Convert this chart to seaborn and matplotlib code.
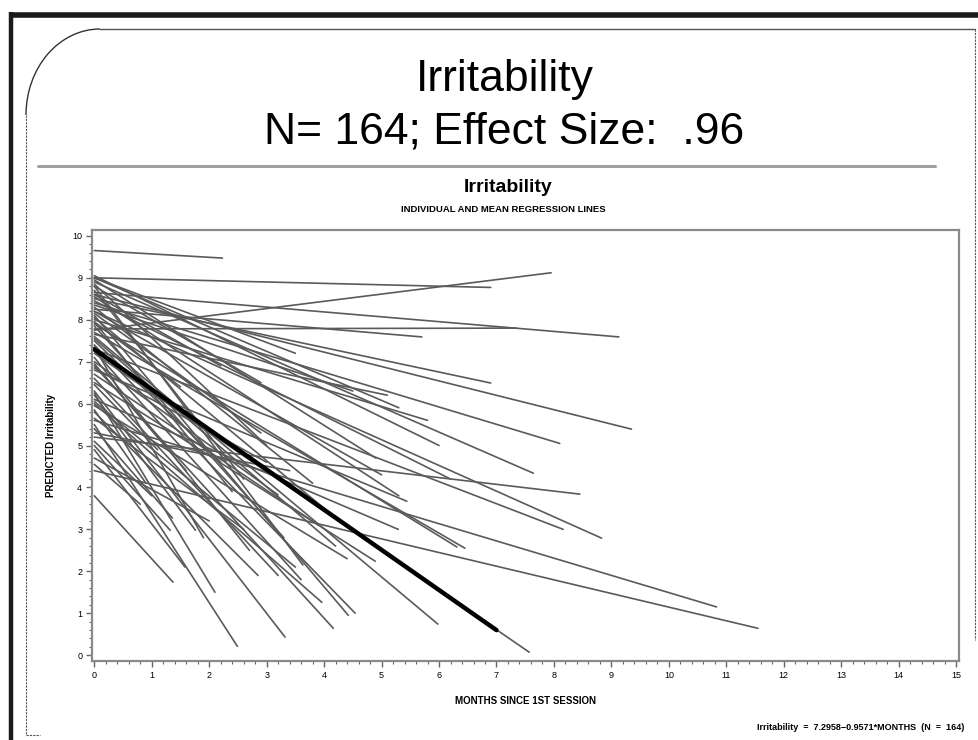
import numpy as np
import pandas as pd
import matplotlib
matplotlib.use("Agg")
import matplotlib.pyplot as plt
import seaborn as sns
from matplotlib.lines import Line2D
from matplotlib.patches import Arc
from matplotlib.ticker import MultipleLocator

# individual regression lines: value at month 0, last month, value at last month
start_y = [9.65, 9.00, 7.75, 8.65, 7.78, 8.25, 8.50, 8.60, 8.40, 8.00,
           7.65, 8.90, 5.20, 7.30, 8.20, 5.60, 4.40, 7.20, 6.80, 7.90,
           6.10, 6.50, 7.60, 6.90, 7.40, 8.10, 6.00, 3.80, 5.50, 6.30,
           4.90, 5.40, 5.00, 6.20, 7.00, 6.60, 5.80, 8.80, 9.05, 8.95,
           8.85, 8.70, 8.55, 8.30, 8.15, 8.05, 7.95, 7.85, 7.70, 7.50,
           7.35, 7.10, 6.95, 6.70, 6.45, 6.25, 6.05, 5.85, 5.65, 5.30,
           5.10, 4.70, 4.55, 8.35, 9.00, 8.80, 8.60, 7.95, 8.20, 7.55,
           6.85, 5.95, 7.25, 8.45, 9.00]
end_x = [2.23, 6.90, 7.95, 9.13, 7.35, 5.70, 6.90, 9.35, 8.10, 5.80,
         5.10, 7.64, 8.45, 8.16, 8.83, 10.83, 11.55, 7.57, 5.44, 6.31,
         5.29, 4.89, 5.98, 4.16, 4.54, 4.42, 3.96, 1.37, 2.49, 3.32,
         1.58, 1.36, 1.32, 1.76, 3.20, 3.20, 2.85, 3.63, 6.00, 4.90,
         3.00, 2.60, 5.30, 3.80, 2.90, 4.00, 2.40, 3.30, 6.45, 2.20,
         1.90, 2.70, 1.60, 3.90, 1.10, 2.10, 3.50, 0.90, 2.60, 3.40,
         1.00, 2.00, 0.80, 4.50, 3.50, 2.90, 2.20, 1.50, 5.00, 4.20,
         3.00, 4.40, 3.60, 6.20, 5.30]
end_y = [9.47, 8.77, 9.12, 7.59, 7.80, 7.59, 6.49, 5.39, 5.05, 5.60,
         6.20, 4.34, 3.84, 3.00, 2.79, 1.15, 0.64, 0.07, 3.67, 2.58,
         3.00, 2.24, 0.74, 0.64, 1.00, 0.95, 1.26, 1.74, 0.21, 0.43,
         2.10, 3.27, 2.98, 2.98, 3.82, 1.90, 1.90, 2.15, 5.00, 4.70,
         5.00, 4.20, 3.80, 4.10, 5.30, 3.50, 3.90, 2.80, 2.55, 4.60,
         2.80, 2.50, 4.40, 3.10, 4.90, 1.50, 2.10, 4.10, 3.00, 4.40,
         3.80, 3.20, 3.60, 6.30, 7.20, 6.50, 6.90, 6.40, 4.30, 2.60,
         4.60, 2.30, 1.80, 4.20, 5.90]

# mean regression line (from the footnote)
mean_intercept = 7.2958
mean_slope = -0.9571
mean_end = 7.0

rows = []
for i, (y0, x1, y1) in enumerate(zip(start_y, end_x, end_y)):
    rows.append({"id": i, "months": 0.0, "pred": y0})
    rows.append({"id": i, "months": x1, "pred": y1})
df = pd.DataFrame(rows)
mean_df = pd.DataFrame({"months": [0.0, mean_end],
                        "pred": [mean_intercept, mean_intercept + mean_slope * mean_end]})

sns.set_style("white")
plt.rcParams["font.family"] = ["Liberation Sans", "DejaVu Sans"]
plt.rcParams["text.color"] = "black"
plt.rcParams["axes.labelcolor"] = "black"
plt.rcParams["xtick.color"] = "black"
plt.rcParams["ytick.color"] = "black"

W, H = 979, 740
fig = plt.figure(figsize=(W / 100, H / 100), dpi=100)
fig.patch.set_facecolor("white")


def fx(px):
    return px / W


def fy(py):
    return 1 - py / H


# slide frame
fig.add_artist(Line2D([fx(11), fx(11)], [fy(12), fy(740)], color="#1a1a1a", lw=3.2,
                      solid_capstyle="butt", transform=fig.transFigure))
fig.add_artist(Line2D([fx(9), fx(979)], [fy(14.5), fy(14.5)], color="#1a1a1a", lw=4,
                      solid_capstyle="butt", transform=fig.transFigure))
fig.add_artist(Line2D([fx(100), fx(975)], [fy(29), fy(29)], color="#555555", lw=1, transform=fig.transFigure))
fig.add_artist(Arc((fx(100), fy(115)), 2 * 74 / W, 2 * 86 / H, theta1=90, theta2=180,
                   color="#333333", lw=1, transform=fig.transFigure))
fig.add_artist(Line2D([fx(26), fx(26), fx(40)], [fy(115), fy(735), fy(735)], color="#555555", lw=0.8,
                      ls=(0, (2, 1)), transform=fig.transFigure))
fig.add_artist(Line2D([fx(975), fx(975)], [fy(29), fy(640)], color="#555555", lw=0.8,
                      ls=(0, (2, 1)), transform=fig.transFigure))
fig.add_artist(Line2D([fx(38), fx(935)], [fy(166), fy(166)], color="#a0a0a0", lw=2.2, transform=fig.transFigure))

# slide titles
narrow = ["Liberation Sans Narrow", "Liberation Sans", "DejaVu Sans"]
fig.text(fx(505), fy(80), "Irritability", ha="center", va="center", fontsize=32, family=narrow)
fig.text(fx(504), fy(132), "N= 164; Effect Size:  .96", ha="center", va="center", fontsize=32, family=narrow)
fig.text(fx(508), fy(188), "Irritability", ha="center", va="center", fontsize=14, fontweight="bold", family=narrow)
fig.text(fx(503), fy(209), "INDIVIDUAL AND MEAN REGRESSION LINES", ha="center", va="center",
         fontsize=6.8, fontweight="bold", family=narrow)

ax = fig.add_axes([fx(92), fy(661), fx(959) - fx(92), fy(230) - fy(661)])
sns.lineplot(data=df, x="months", y="pred", units="id", estimator=None, color="#5a5a5a",
             lw=1.2, ax=ax, legend=False)
sns.lineplot(data=mean_df, x="months", y="pred", color="black", lw=3.2, ax=ax, legend=False)

ax.set_xlim(-0.04, 15.05)
ax.set_ylim(-0.14, 10.14)
ax.xaxis.set_major_locator(MultipleLocator(1))
ax.xaxis.set_minor_locator(MultipleLocator(0.2))
ax.yaxis.set_major_locator(MultipleLocator(1))
ax.yaxis.set_minor_locator(MultipleLocator(0.2))
ax.tick_params(which="major", direction="out", length=4, width=1, color="#666666",
               labelsize=6.5, pad=3, bottom=True, left=True)
ax.tick_params(which="minor", direction="out", length=2, width=0.8, color="#666666",
               bottom=True, left=True)
for s in ax.spines.values():
    s.set_color("#8a8a8a")
    s.set_linewidth(1.6)
ax.set_xlabel("MONTHS SINCE 1ST SESSION", fontsize=7, fontweight="bold", labelpad=12, family=narrow)
ax.set_ylabel("PREDICTED Irritability", fontsize=7, fontweight="bold", labelpad=12, family=narrow)

fig.text(fx(964), fy(727), "Irritability  =  7.2958\u22120.9571*MONTHS  (N  =  164)", ha="right", va="center",
         fontsize=6.5, fontweight="bold", family=narrow)

fig.savefig("out.png", dpi=100, facecolor="white")
